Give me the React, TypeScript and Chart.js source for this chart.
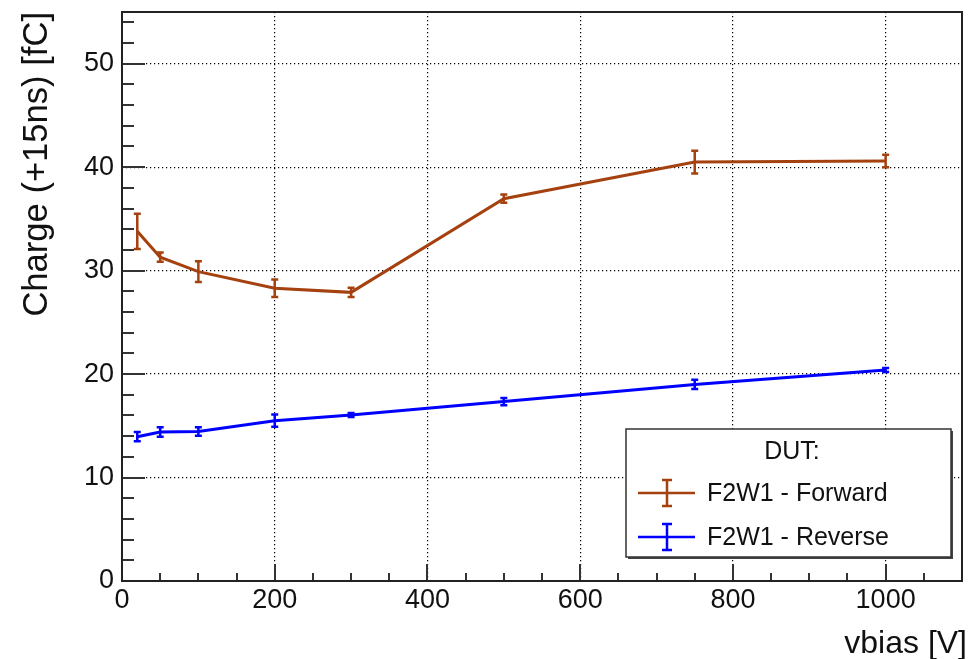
import React, { useEffect, useRef } from "react";
import { Chart, registerables } from "chart.js";

Chart.register(...registerables);

// ---- data ----
const vbias = [20, 50, 100, 200, 300, 500, 750, 1000];
const forwardCharge = [33.8, 31.3, 29.9, 28.3, 27.9, 36.95, 40.5, 40.6];
const forwardErr = [1.7, 0.45, 1.0, 0.85, 0.45, 0.4, 1.1, 0.6];
const reverseCharge = [13.95, 14.4, 14.45, 15.5, 16.05, 17.35, 19.0, 20.4];
const reverseErr = [0.45, 0.45, 0.4, 0.6, 0.2, 0.35, 0.45, 0.2];

const seriesLabels = ["F2W1 - Forward", "F2W1 - Reverse"];
const legendHeader = "DUT:";
const xTitle = "vbias [V]";
const yTitle = "Charge (+15ns) [fC]";

const xTickValues = [0, 200, 400, 600, 800, 1000];
const yTickValues = [0, 10, 20, 30, 40, 50];
const xRange = [0, 1100];
const yRange = [0, 55];
const xMinorStep = 50;
const yMinorStep = 2;

const FONT = "'Liberation Sans', Arial, Helvetica, sans-serif";
const FORWARD_COLOR = "#a4410f";
const REVERSE_COLOR = "#0000ff";

function drawErrorBar(ctx: CanvasRenderingContext2D, x: number, top: number, bot: number, cap: number) {
  ctx.beginPath();
  ctx.moveTo(x, top);
  ctx.lineTo(x, bot);
  ctx.moveTo(x - cap, top);
  ctx.lineTo(x + cap, top);
  ctx.moveTo(x - cap, bot);
  ctx.lineTo(x + cap, bot);
  ctx.stroke();
}

const rootStylePlugin = {
  id: "rootStyle",
  afterDatasetsDraw(chart: any) {
    const ctx: CanvasRenderingContext2D = chart.ctx;
    const xs = chart.scales.x;
    const ys = chart.scales.y;
    chart.data.datasets.forEach((ds: any) => {
      ctx.save();
      ctx.strokeStyle = ds.borderColor;
      ctx.lineWidth = 2.5;
      ds.data.forEach((p: any, j: number) => {
        const e = ds.errors[j];
        const px = xs.getPixelForValue(p.x);
        drawErrorBar(ctx, px, ys.getPixelForValue(p.y + e), ys.getPixelForValue(p.y - e), 3.5);
      });
      ctx.restore();
    });
  },
  afterDraw(chart: any) {
    const ctx: CanvasRenderingContext2D = chart.ctx;
    const { left, right, top, bottom } = chart.chartArea;
    const xs = chart.scales.x;
    const ys = chart.scales.y;
    ctx.save();
    // tick marks (inward)
    ctx.strokeStyle = "#333";
    ctx.lineWidth = 2;
    ctx.beginPath();
    for (let v = xRange[0]; v <= xRange[1]; v += xMinorStep) {
      const px = Math.round(xs.getPixelForValue(v));
      const len = xTickValues.includes(v) ? 17 : 8;
      ctx.moveTo(px, bottom);
      ctx.lineTo(px, bottom - len);
    }
    for (let v = yRange[0]; v <= yRange[1]; v += yMinorStep) {
      const py = Math.round(ys.getPixelForValue(v));
      const len = yTickValues.includes(v) ? 23 : 12;
      ctx.moveTo(left, py);
      ctx.lineTo(left + len, py);
    }
    ctx.stroke();
    // frame
    ctx.strokeStyle = "#222";
    ctx.lineWidth = 2;
    ctx.strokeRect(left, top, right - left, bottom - top);

    // axis titles
    ctx.fillStyle = "#111";
    ctx.textAlign = "right";
    ctx.textBaseline = "alphabetic";
    ctx.font = `32px ${FONT}`;
    ctx.fillText(xTitle, 967, 653);
    ctx.save();
    ctx.font = `34.6px ${FONT}`;
    ctx.translate(47, top);
    ctx.rotate(-Math.PI / 2);
    ctx.fillText(yTitle, 0, 0);
    ctx.restore();

    // legend
    const lx = 626, ly = 429, lw = 325, lh = 128;
    ctx.fillStyle = "#444";
    ctx.fillRect(lx + 2, ly + 2, lw, lh);
    ctx.fillStyle = "#fff";
    ctx.fillRect(lx, ly, lw, lh);
    ctx.strokeStyle = "#333";
    ctx.lineWidth = 1.5;
    ctx.strokeRect(lx, ly, lw, lh);
    ctx.fillStyle = "#111";
    ctx.font = `25px ${FONT}`;
    ctx.textAlign = "center";
    ctx.textBaseline = "middle";
    ctx.fillText(legendHeader, lx + 166, ly + 23);
    chart.data.datasets.forEach((ds: any, i: number) => {
      const cy = ly + 64 + i * 44;
      ctx.strokeStyle = ds.borderColor;
      ctx.lineWidth = 2.5;
      ctx.beginPath();
      ctx.moveTo(lx + 12, cy);
      ctx.lineTo(lx + 69, cy);
      ctx.stroke();
      drawErrorBar(ctx, lx + 41, cy - 13, cy + 13, 5);
      ctx.fillStyle = "#111";
      ctx.textAlign = "left";
      ctx.fillText(ds.label, lx + 81, cy + 1);
    });
    ctx.restore();
  },
};

export default function App() {
  const ref = useRef<HTMLCanvasElement | null>(null);
  useEffect(() => {
    if (!ref.current) return;
    const mk = (ys: number[]) => vbias.map((x, i) => ({ x, y: ys[i] }));
    const tickFont = { family: FONT, size: 27 };
    const chart = new Chart(ref.current, {
      type: "scatter",
      data: {
        datasets: [
          {
            label: seriesLabels[0],
            data: mk(forwardCharge),
            errors: forwardErr,
            showLine: true,
            borderColor: FORWARD_COLOR,
            backgroundColor: FORWARD_COLOR,
            borderWidth: 3,
            pointRadius: 0,
          } as any,
          {
            label: seriesLabels[1],
            data: mk(reverseCharge),
            errors: reverseErr,
            showLine: true,
            borderColor: REVERSE_COLOR,
            backgroundColor: REVERSE_COLOR,
            borderWidth: 3,
            pointRadius: 0,
          } as any,
        ],
      },
      options: {
        animation: false,
        responsive: false,
        devicePixelRatio: 1,
        layout: { padding: { top: 12, right: 10, left: 0, bottom: 0 } },
        plugins: { legend: { display: false }, tooltip: { enabled: false } },
        scales: {
          x: {
            type: "linear",
            min: xRange[0],
            max: xRange[1],
            afterBuildTicks: (s: any) => {
              s.ticks = xTickValues.map((value) => ({ value }));
            },
            afterFit: (s: any) => {
              s.height = 78;
              s.paddingLeft = 0;
              s.paddingRight = 0;
            },
            grid: { color: "#000", lineWidth: 1.2, drawTicks: false },
            border: { display: false, dash: [1.2, 2.8] },
            ticks: {
              padding: 3,
              font: tickFont,
              color: "#111",
              maxRotation: 0,
              autoSkip: false,
              callback: (v: any) => String(v),
            },
          },
          y: {
            type: "linear",
            min: yRange[0],
            max: yRange[1],
            afterBuildTicks: (s: any) => {
              s.ticks = yTickValues.map((value) => ({ value }));
            },
            afterFit: (s: any) => {
              s.width = 122;
              s.paddingTop = 0;
              s.paddingBottom = 0;
            },
            grid: { color: "#000", lineWidth: 1.2, drawTicks: false },
            border: { display: false, dash: [1.2, 2.8] },
            ticks: {
              padding: 8,
              font: tickFont,
              color: "#111",
              autoSkip: false,
              callback: (v: any) => String(v),
            },
          },
        },
      } as any,
      plugins: [rootStylePlugin],
    });
    return () => chart.destroy();
  }, []);

  return (
    <div style={{ position: "fixed", left: 0, top: 0, width: 972, height: 659, background: "#fff" }}>
      <canvas ref={ref} width={972} height={659} style={{ display: "block" }} />
    </div>
  );
}
